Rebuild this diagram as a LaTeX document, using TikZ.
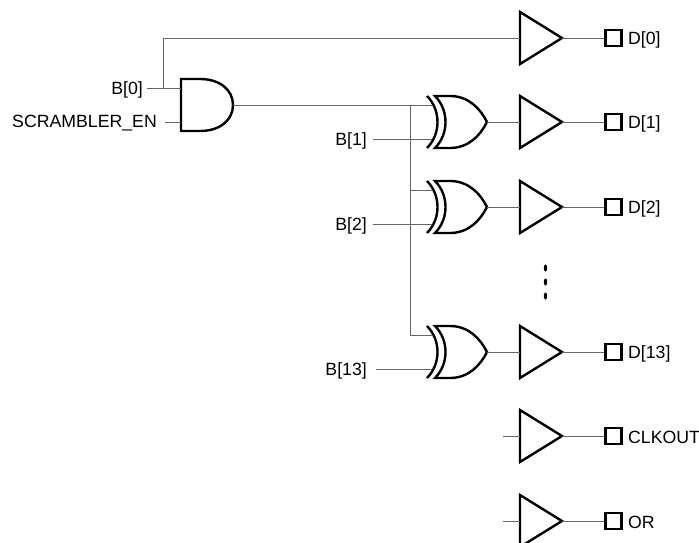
\documentclass[tikz,border=0pt]{standalone}
\usepackage{fontspec}
\setmainfont{Liberation Sans}
\tikzset{
  wire/.style={line width=1pt,draw=black!60},
  outline/.style={draw=black,line width=2.4pt,line join=miter},
  pad/.style={outline,inner sep=0pt,minimum size=16pt},
  padtext/.style={anchor=west,inner sep=0pt,yshift=-1.5pt,font=\fontsize{17.7}{20}\selectfont},
  intext/.style={anchor=east,inner ysep=2pt,inner xsep=4pt,yshift=-1.5pt,font=\fontsize{17.7}{20}\selectfont},
  andgate/.pic={
    \draw[outline] (-7,-26) -- (-26,-26) -- (-26,26) -- (-7,26)
      .. controls (13,26) and (26,15) .. (26,0)
      .. controls (26,-15) and (13,-26) .. (-7,-26) -- cycle;
    \coordinate (-in1) at (-26,-17);
    \coordinate (-in2) at (-26,17);
    \coordinate (-out) at (26,0);
  },
  xorgate/.pic={
    \draw[outline] (-26,-26) -- (-11,-26)
      .. controls (7,-26) and (19,-14) .. (26,0)
      .. controls (19,14) and (7,26) .. (-11,26) -- (-26,26)
      .. controls (-12,12) and (-12,-12) .. (-26,-26) -- cycle;
    \draw[outline] (-34,-26) .. controls (-20,-12) and (-20,12) .. (-34,26);
    \coordinate (-in1) at (-29,-17);
    \coordinate (-in2) at (-29,17);
    \coordinate (-out) at (26,0);
  },
  bufgate/.pic={
    \draw[outline] (-21,-26) -- (21,0) -- (-21,26) -- cycle;
    \coordinate (-in) at (-21,0);
    \coordinate (-out) at (21,0);
  }
}
\begin{document}
\begin{tikzpicture}[x=1pt,y=-1pt]
	\useasboundingbox (0,0) rectangle (699,542);
	\pic (andb) at (207,105) {andgate}; % AND gate
	\pic (xorone) at (461,122) {xorgate}; % XOR D[1]
	\pic (xortwo) at (461,207) {xorgate}; % XOR D[2]
	\pic (xorlast) at (461,352) {xorgate}; % XOR D[13]
	\pic (bufzero) at (541,38) {bufgate}; % Buffer D[0]
	\pic (bufone) at (541,122) {bufgate}; % Buffer D[1]
	\pic (buftwo) at (541,207) {bufgate}; % Buffer D[2]
	\pic (buflast) at (541,352) {bufgate}; % Buffer D[13]
	\pic (bufclk) at (541,436) {bufgate}; % Buffer CLKOUT
	\pic (bufor) at (541,521) {bufgate}; % Buffer OR
	\node[pad] (padzero) at (613.5,38) {}; % Pads
	\node[pad] (padone) at (613.5,122) {};
	\node[pad] (padtwo) at (613.5,207) {};
	\node[pad] (padlast) at (613.5,352) {};
	\node[pad] (padclk) at (613.5,436) {};
	\node[pad] (pador) at (613.5,521) {};
	\node[padtext] (txtzero) at (628,38) {D[0]}; % Pad labels
	\node[padtext] (txtone) at (628,122) {D[1]};
	\node[padtext] (txttwo) at (628,207) {D[2]};
	\node[padtext] (txtlast) at (628,352) {D[13]};
	\node[padtext] (txtclk) at (628,436) {CLKOUT};
	\node[padtext] (txtor) at (628,521) {OR};
	\node[intext] (inzero) at (147,88) {B[0]}; % Input labels
	\node[intext,inner xsep=8pt] (inen) at (165,122) {SCRAMBLER\_EN};
	\node[intext,inner xsep=6pt] (inone) at (373,139) {B[1]};
	\node[intext,inner xsep=6pt] (intwo) at (373,224) {B[2]};
	\node[intext,inner xsep=9pt] (inlast) at (376,369) {B[13]};
	\coordinate (jzero) at (163,88); % Junctions
	\coordinate (jone) at (410,105);
	\coordinate (jtwo) at (410,190);
	\coordinate (jlast) at (410,335);
	\coordinate (freeclk) at (503,436);
	\coordinate (freeor) at (503,521);
	\draw[wire] (inzero.east |- andb-in1) -- (andb-in1); % AND inputs
	\draw[wire] (inen.east |- andb-in2) -- (andb-in2);
	\draw[wire] (jzero) |- (bufzero-in); % B[0] to D[0]
	\draw[wire] (andb-out) -- (xorone-in1); % AND output
	\draw[wire] (jone) -- (jlast); % Bus
	\draw[wire] (jtwo) -- (xortwo-in1);
	\draw[wire] (jlast) -- (xorlast-in1);
	\draw[wire] (inone.east |- xorone-in2) -- (xorone-in2); % XOR inputs
	\draw[wire] (intwo.east |- xortwo-in2) -- (xortwo-in2);
	\draw[wire] (inlast.east |- xorlast-in2) -- (xorlast-in2);
	\draw[wire] (xorone-out) -- (bufone-in); % XOR to buffer
	\draw[wire] (xortwo-out) -- (buftwo-in);
	\draw[wire] (xorlast-out) -- (buflast-in);
	\draw[wire] (freeclk) -- (bufclk-in);
	\draw[wire] (freeor) -- (bufor-in);
	\draw[wire] (bufzero-out) -- (padzero.west); % Buffer to pad
	\draw[wire] (bufone-out) -- (padone.west);
	\draw[wire] (buftwo-out) -- (padtwo.west);
	\draw[wire] (buflast-out) -- (padlast.west);
	\draw[wire] (bufclk-out) -- (padclk.west);
	\draw[wire] (bufor-out) -- (pador.west);
	\fill (545.5,268) ellipse (1.7pt and 3.5pt); % Dots
	\fill (545.5,282) ellipse (1.7pt and 3.5pt);
	\fill (545.5,296) ellipse (1.7pt and 3.5pt);
\end{tikzpicture}
\end{document}
